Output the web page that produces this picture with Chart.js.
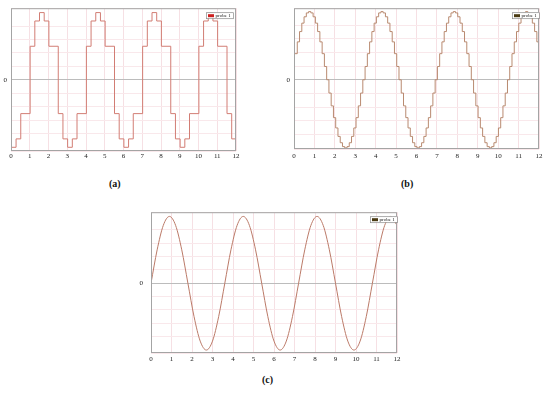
<!DOCTYPE html>
<html>
<head>
<meta charset="utf-8">
<script src="https://cdn.jsdelivr.net/npm/chart.js@4/dist/chart.umd.min.js"></script>
<style>
  body { margin: 0; background: #fff; width: 550px; height: 397px; position: relative; overflow: hidden; }
  canvas { position: absolute; }
  .cap { position: absolute; font: bold 10px "Liberation Serif", serif; line-height: 10px; color: #111; }
</style>
</head>
<body>
<canvas id="chartA" width="245" height="165" style="left:0;top:0"></canvas>
<canvas id="chartB" width="270" height="165" style="left:280px;top:0"></canvas>
<canvas id="chartC" width="280" height="170" style="left:130px;top:200px"></canvas>
<div class="cap" style="left:109px;top:179px">(a)</div>
<div class="cap" style="left:401px;top:179px">(b)</div>
<div class="cap" style="left:262px;top:375px">(c)</div>
<script>
// (a) staircase: switching times and the level held from each time
var aTimes = [0, 0.27, 0.52,
  1.02, 1.27, 1.52, 1.77, 2.02, 2.52, 2.77, 3.02, 3.27, 3.52,
  4.02, 4.27, 4.52, 4.77, 5.02, 5.52, 5.77, 6.02, 6.27, 6.52,
  7.02, 7.27, 7.52, 7.77, 8.02, 8.52, 8.77, 9.02, 9.27, 9.52,
  10.02, 10.27, 10.52, 10.77, 11.02, 11.52, 11.77, 12];
var aLevels = [-2, -1.75, -1,
  1, 1.75, 2, 1.75, 1, -1, -1.75, -2, -1.75, -1,
  1, 1.75, 2, 1.75, 1, -1, -1.75, -2, -1.75, -1,
  1, 1.75, 2, 1.75, 1, -1, -1.75, -2, -1.75, -1,
  1, 1.75, 2, 1.75, 1, -1, -1.75, -1.75];

// (b) sample-and-hold values, one every bStep starting at bStart
var bStart = 0.05;
var bStep = 0.1107;
var bValues = [
  0.383, 0.556, 0.707, 0.831, 0.924, 0.981, 1, 0.981, 0.924, 0.831, 0.707, 0.556, 0.383, 0.195, 0, -0.195,
  -0.383, -0.556, -0.707, -0.831, -0.924, -0.981, -1, -0.981, -0.924, -0.831, -0.707, -0.556, -0.383, -0.195, 0, 0.195,
  0.383, 0.556, 0.707, 0.831, 0.924, 0.981, 1, 0.981, 0.924, 0.831, 0.707, 0.556, 0.383, 0.195, 0, -0.195,
  -0.383, -0.556, -0.707, -0.831, -0.924, -0.981, -1, -0.981, -0.924, -0.831, -0.707, -0.556, -0.383, -0.195, 0, 0.195,
  0.383, 0.556, 0.707, 0.831, 0.924, 0.981, 1, 0.981, 0.924, 0.831, 0.707, 0.556, 0.383, 0.195, 0, -0.195,
  -0.383, -0.556, -0.707, -0.831, -0.924, -0.981, -1, -0.981, -0.924, -0.831, -0.707, -0.556, -0.383, -0.195, 0, 0.195,
  0.383, 0.556, 0.707, 0.831, 0.924, 0.981, 1, 0.981, 0.924, 0.831, 0.707, 0.556];

// (c) near-sinusoid read every cStep
var cStep = 0.3;
var cValues = [
  0, 0.5, 0.866, 1, 0.866, 0.5, 0, -0.5, -0.866, -1, -0.866, -0.5,
  0, 0.5, 0.866, 1, 0.866, 0.5, 0, -0.5, -0.866, -1, -0.866, -0.5,
  0, 0.5, 0.866, 1, 0.866, 0.5, 0, -0.5, -0.866, -1, -0.866, -0.5,
  0, 0.5, 0.866, 1, 0.866];

var xTicks = [0, 1, 2, 3, 4, 5, 6, 7, 8, 9, 10, 11, 12];
var seriesName = "probe 1";

var tickFont = { family: "'Liberation Serif', serif", size: 7 };

var framePlugin = {
  id: "frame",
  afterDraw(chart, args, opts) {
    var ctx = chart.ctx, a = chart.chartArea;
    ctx.save();
    ctx.strokeStyle = "#a4a4a4";
    ctx.lineWidth = 1;
    ctx.strokeRect(a.left + 0.5, a.top + 0.5, a.width - 1, a.height - 1);
    // little legend box in the top right corner
    var w = 27, h = 6;
    var x = a.right - w - opts.inset, y = a.top + 4;
    ctx.fillStyle = "#fff";
    ctx.fillRect(x, y, w, h);
    ctx.strokeStyle = "#8a8a8a";
    ctx.lineWidth = 0.7;
    ctx.strokeRect(x + 0.5, y + 0.5, w, h);
    ctx.fillStyle = opts.swatch;
    ctx.fillRect(x + 2, y + 2, 6, 3);
    ctx.fillStyle = "#222";
    ctx.font = "5px 'Liberation Serif', serif";
    ctx.textBaseline = "middle";
    ctx.fillText(chart.data.datasets[0].label, x + 9.5, y + h / 2 + 0.8);
    ctx.restore();
  }
};

function gridColor(c) {
  if (c.tick && Math.abs(c.tick.value) < 1e-9) return "#bcbcbc";
  return "#f9e8eb";
}

function makeChart(id, data, lineColor, box) {
  return new Chart(document.getElementById(id), {
    type: "line",
    data: { datasets: [data] },
    plugins: [framePlugin],
    options: {
      responsive: false,
      animation: false,
      devicePixelRatio: 1,
      layout: { padding: { top: box.top, right: box.right, left: 0, bottom: 0 } },
      plugins: {
        legend: { display: false },
        tooltip: { enabled: false },
        frame: { swatch: box.swatch, inset: box.inset }
      },
      elements: { point: { radius: 0 }, line: { borderWidth: 1, borderColor: lineColor } },
      scales: {
        x: {
          type: "linear", min: 0, max: 12,
          afterBuildTicks: function (s) { s.ticks = xTicks.map(function (v) { return { value: v }; }); },
          ticks: { font: tickFont, color: "#222", padding: box.xPad, autoSkip: false, maxRotation: 0 },
          grid: { color: "#f6e0e4", drawTicks: false },
          border: { display: false },
          afterFit: function (s) { s.height = box.xh; }
        },
        y: {
          min: box.min, max: box.max,
          ticks: {
            stepSize: box.step, font: tickFont, color: "#222", padding: box.yPad, autoSkip: false,
            callback: function (v) { return Math.abs(v) < 1e-9 ? "0" : ""; }
          },
          grid: { color: gridColor, drawTicks: false },
          border: { display: false },
          afterFit: function (s) { s.width = box.yw; }
        }
      }
    }
  });
}

var aData = aTimes.map(function (t, i) { return { x: t, y: aLevels[i] }; });
var bData = bValues.map(function (v, i) { return { x: bStart + i * bStep, y: v }; });
bData.push({ x: 12, y: bValues[bValues.length - 1] });
var cData = cValues.map(function (v, i) { return { x: i * cStep, y: v }; });

makeChart("chartA", { label: seriesName, data: aData, stepped: true }, "#d27d74",
  { top: 7, right: 9, yw: 11, xh: 14, min: -2.11, max: 2.13, step: 0.4, xPad: 1, yPad: 4, swatch: "#cc2020", inset: 3 });

makeChart("chartB", { label: seriesName, data: bData, stepped: true }, "#b98a70",
  { top: 7, right: 11, yw: 14, xh: 16, min: -1.016, max: 1.05, step: 0.2, xPad: 3, yPad: 4, swatch: "#4a3a12", inset: 0 });

makeChart("chartC", { label: seriesName, data: cData, cubicInterpolationMode: "monotone" }, "#bb7a68",
  { top: 10, right: 13, yw: 21, xh: 17, min: -1.044, max: 1.063, step: 0.2, xPad: 2, yPad: 8, swatch: "#4a3a12", inset: 0 });
</script>
</body>
</html>
